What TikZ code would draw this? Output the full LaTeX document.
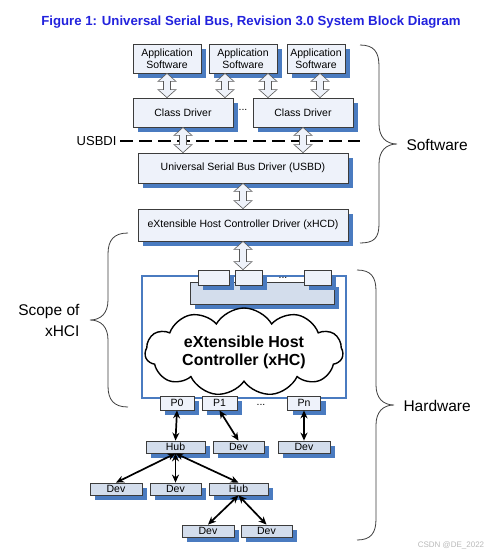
\documentclass[tikz,border=0pt]{standalone}
\usepackage{fontspec}
\setmainfont{Liberation Sans}
\usetikzlibrary{arrows.meta,positioning,calc,shapes.symbols,shadows}
\definecolor{titleblue}{HTML}{2222DD}
\definecolor{shadowblue}{HTML}{4A7BC0}
\definecolor{boxpale}{HTML}{EEF2FA}
\definecolor{boxgrey}{HTML}{D3DDEC}
\definecolor{frameblue}{HTML}{4A7BC0}
\definecolor{edge}{HTML}{3C3C3C}

% hollow double arrow at x=#1 from the point #2 down to the point #3
\newcommand{\fatlink}[3]{%
  \draw[fatarrow] let \p1=(#2), \p2=(#3) in
    (#1pt,\y1) -- ({#1pt+9pt},{\y1-8pt}) -- ({#1pt+3.5pt},{\y1-8pt})
    -- ({#1pt+3.5pt},{\y2+8pt}) -- ({#1pt+9pt},{\y2+8pt}) -- (#1pt,\y2)
    -- ({#1pt-9pt},{\y2+8pt}) -- ({#1pt-3.5pt},{\y2+8pt})
    -- ({#1pt-3.5pt},{\y1-8pt}) -- ({#1pt-9pt},{\y1-8pt}) -- cycle;}

\begin{document}
\begin{tikzpicture}[x=1pt,y=-1pt,
  box/.style={draw=edge,line width=0.8pt,inner sep=0pt,align=center,
    font=\fontsize{10.5}{11.5}\selectfont,
    drop shadow={shadow xshift=5pt,shadow yshift=-5pt,fill=shadowblue,opacity=1}},
  pale/.style={box,fill=boxpale},
  grey/.style={box,fill=boxgrey},
  fatarrow/.style={draw=edge!85,fill=boxpale,line width=0.6pt,line join=miter},
  link/.style={line width=1.7pt,{Stealth[length=8pt,width=7pt]}-{Stealth[length=8pt,width=7pt]}},
  bracepath/.style={line width=0.8pt,edge},
  side/.style={font=\fontsize{15.5}{21}\selectfont}]
  \useasboundingbox (0,0) rectangle (495,558);

  % title
  \node[font=\fontsize{13.2}{14}\selectfont\bfseries,text=titleblue] (title) at (251,22)
    {Figure 1: Universal Serial Bus, Revision 3.0 System Block Diagram};

  % software stack
  \node[pale,minimum width=68pt,minimum height=29pt] (app1) at (167,58.5) {Application\\Software};
  \node[pale,minimum width=68pt,minimum height=29pt] (app2) at (243,58.5) {Application\\Software};
  \node[pale,minimum width=58pt,minimum height=29pt] (app3) at (316,58.5) {Application\\Software};
  \node[pale,minimum width=100pt,minimum height=29pt] (cd1) at (183,112.5) {Class Driver};
  \node[pale,minimum width=100pt,minimum height=29pt] (cd2) at (303,112.5) {Class Driver};
  \node[font=\fontsize{10.5}{12}\selectfont] (dots1) at (243,110) {...};
  \node[pale,minimum width=210pt,minimum height=30pt] (usbd) at (243,168) {Universal Serial Bus Driver (USBD)};
  \node[pale,minimum width=210pt,minimum height=32pt] (xhcd) at (243,225) {eXtensible Host Controller Driver (xHCD)};

  % USBDI line
  \node[font=\fontsize{13}{14}\selectfont,anchor=east] (usbdi) at (120,141) {USBDI};
  \coordinate (usbdiend) at (360,141);
  \draw[line width=1.8pt,dash pattern=on 13pt off 6pt] (usbdi.east) -- (usbdiend);

  \fatlink{167}{app1.south}{cd1.north}
  \fatlink{225}{app2.south}{cd1.north}
  \fatlink{268}{app2.south}{cd2.north}
  \fatlink{320}{app3.south}{cd2.north}
  \fatlink{183}{cd1.south}{usbd.north}
  \fatlink{303}{cd2.south}{usbd.north}
  \fatlink{243}{usbd.south}{xhcd.north}

  % host controller
  \draw[frameblue,line width=2.5pt,fill=white] (142,276) rectangle (346,398);
  \node[grey,minimum width=144pt,minimum height=22pt] (bar) at (262,293) {};
  \node[pale,minimum width=31pt,minimum height=15pt] (sb1) at (213.5,277.5) {};
  \node[pale,minimum width=27pt,minimum height=15pt] (sb2) at (248.5,277.5) {};
  \node[pale,minimum width=27pt,minimum height=15pt] (sb3) at (317.5,277.5) {};
  \node[font=\fontsize{10.5}{12}\selectfont] (dots2) at (283,278) {...};
  \fatlink{243}{xhcd.south}{sb2.north}
  \node[cloud,cloud ignores aspect,cloud puffs=11,cloud puff arc=120,draw,line width=1.4pt,
    fill=white,minimum width=198pt,minimum height=88pt,inner sep=0pt,align=center,
    font=\fontsize{16}{18}\selectfont\bfseries] (xhc) at (244,352) {eXtensible Host\\Controller (xHC)};

  % ports and devices
  \node[pale,minimum width=34pt,minimum height=14pt] (p0) at (177,403) {P0};
  \node[pale,minimum width=35pt,minimum height=14pt] (p1) at (219.5,403) {P1};
  \node[pale,minimum width=33pt,minimum height=14pt] (pn) at (304,403) {Pn};
  \node[font=\fontsize{10.5}{12}\selectfont] (dots3) at (261,405) {...};
  \node[grey,minimum width=59pt,minimum height=12pt] (hub1) at (175.5,447) {Hub};
  \node[grey,minimum width=51pt,minimum height=12pt] (dev1) at (238.5,447) {Dev};
  \node[grey,minimum width=52pt,minimum height=12pt] (devn) at (304,447) {Dev};
  \node[grey,minimum width=52pt,minimum height=12pt] (deva) at (116,489) {Dev};
  \node[grey,minimum width=51pt,minimum height=12pt] (devb) at (175.5,489) {Dev};
  \node[grey,minimum width=59pt,minimum height=12pt] (hub2) at (238.5,489) {Hub};
  \node[grey,minimum width=52pt,minimum height=12pt] (devc) at (208,531) {Dev};
  \node[grey,minimum width=51pt,minimum height=12pt] (devd) at (266.5,531) {Dev};

  \draw[link] (p0.south) -- (hub1.north);
  \draw[link] (p1.south) -- (dev1.north);
  \draw[link] (pn.south) -- (devn.north);
  \draw[link] (hub1.south) -- (deva.north);
  \draw[link] (hub1.south) -- (devb.north);
  \draw[link] (hub1.south) -- (hub2.north);
  \draw[link] (hub2.south) -- (devc.north);
  \draw[link] (hub2.south) -- (devd.north);

  % braces
  \draw[bracepath] (360,45) .. controls (374,45) and (379,52) .. (379,66) -- (379,124)
    .. controls (379,137) and (386,144) .. (397,144) .. controls (386,144) and (379,151) .. (379,164)
    -- (379,224) .. controls (379,238) and (374,243) .. (360,243);
  \node[side,anchor=west] (sw) at (403,145) {Software};
  \draw[bracepath] (357,270) .. controls (371,270) and (376,277) .. (376,291) -- (376,385)
    .. controls (376,398) and (383,405) .. (394,405) .. controls (383,405) and (376,412) .. (376,425)
    -- (376,519) .. controls (376,533) and (371,540) .. (357,540);
  \node[side,anchor=west] (hw) at (400,406) {Hardware};
  \draw[bracepath] (128,233) .. controls (114,233) and (108,240) .. (108,254) -- (108,300)
    .. controls (108,313) and (101,320) .. (90,320) .. controls (101,320) and (108,327) .. (108,340)
    -- (108,386) .. controls (108,400) and (114,407) .. (128,407);
  \node[side,anchor=east,align=right] (scope) at (83,320) {Scope of\\xHCI};

  % watermark
  \node[font=\fontsize{8}{9}\selectfont,text=gray!55] (mark) at (451,545) {CSDN @DE\_2022};
\end{tikzpicture}
\end{document}
